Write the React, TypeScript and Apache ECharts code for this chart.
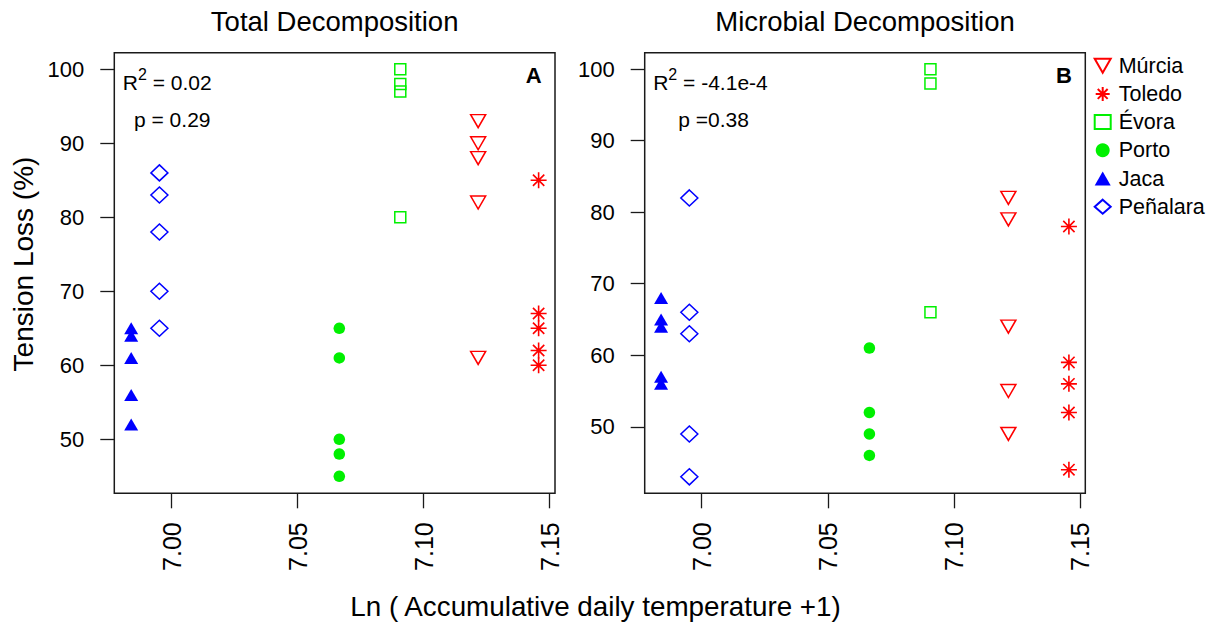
import React, { useEffect, useRef } from "react";
import * as echarts from "echarts";

const FONT = "'Liberation Sans', Arial, Helvetica, sans-serif";

// Sites and their x position: Ln(accumulative daily temperature + 1)
const sites = ["Múrcia", "Toledo", "Évora", "Porto", "Jaca", "Peñalara"];
const siteLn = [7.1216, 7.1456, 7.0907, 7.0665, 6.9839, 6.9951];

// Panel A: Total decomposition (tension loss %)
const totalMurcia = [93, 90, 88, 82, 61];
const totalToledo = [85, 67, 65, 62, 60];
const totalEvora = [100, 98, 97, 80];
const totalPorto = [65, 61, 50, 48, 45];
const totalJaca = [65, 64, 61, 56, 52];
const totalPenalara = [86, 83, 78, 70, 65];

// Panel B: Microbial decomposition (tension loss %)
const microMurcia = [82, 79, 64, 55, 49];
const microToledo = [78, 59, 56, 52, 44];
const microEvora = [100, 98, 66];
const microPorto = [61, 52, 49, 46];
const microJaca = [68, 65, 64, 57, 56];
const microPenalara = [82, 66, 63, 49, 43];

const xTicks = [7.0, 7.05, 7.1, 7.15];
const yTicks = [50, 60, 70, 80, 90, 100];

const panelTitles = ["Total Decomposition", "Microbial Decomposition"];
const r2Values = ["0.02", "-4.1e-4"];
const pLabels = ["p = 0.29", "p =0.38"];
const panelLetters = ["A", "B"];

const RED = "#FF0000";
const GREEN = "#00F000";
const BLUE = "#0000FF";
const CLEAR = "rgba(255,255,255,0)";
const STAR =
  "path://M8,0L8,16M0,8L16,8M2.34,2.34L13.66,13.66M2.34,13.66L13.66,2.34";
const DOWN_TRI = "path://M0,0L16,0L8,14Z";

const siteStyles: any[] = [
  { symbol: "triangle", symbolRotate: 180, symbolSize: [15, 13], itemStyle: { color: CLEAR, borderColor: RED, borderWidth: 1.5, opacity: 1 } },
  { symbol: STAR, symbolSize: 16, itemStyle: { color: CLEAR, borderColor: RED, borderWidth: 1.6, opacity: 1 } },
  { symbol: "rect", symbolSize: 11, itemStyle: { color: CLEAR, borderColor: GREEN, borderWidth: 1.5, opacity: 1 } },
  { symbol: "circle", symbolSize: 11.5, itemStyle: { color: GREEN, opacity: 1 } },
  { symbol: "triangle", symbolSize: [14, 12], itemStyle: { color: BLUE, opacity: 1 } },
  { symbol: "diamond", symbolSize: [17, 16], itemStyle: { color: CLEAR, borderColor: BLUE, borderWidth: 1.5, opacity: 1 } },
];

const panelValues = [
  [totalMurcia, totalToledo, totalEvora, totalPorto, totalJaca, totalPenalara],
  [microMurcia, microToledo, microEvora, microPorto, microJaca, microPenalara],
];

const grids = [
  { left: 114.3, top: 52.7, width: 440.7, height: 440.6 },
  { left: 644.7, top: 52.7, width: 440.6, height: 440.6 },
];
const xRanges = [
  [6.9772, 7.1521],
  [6.9774, 7.1521],
];
const yRanges = [
  [42.7, 102.24],
  [40.7, 102.3],
];

const AXIS_COLOR = "#1a1a1a";

function buildOption() {
  const series: any[] = [];
  panelValues.forEach((vals, p) => {
    vals.forEach((arr, i) => {
      series.push({
        type: "scatter",
        name: sites[i],
        xAxisIndex: p,
        yAxisIndex: p,
        data: arr.map((v) => [siteLn[i], v]),
        ...siteStyles[i],
        emphasis: { disabled: true },
      });
    });
  });

  const graphic: any[] = [];
  panelTitles.forEach((t, p) => {
    const g = grids[p];
    graphic.push({
      type: "text",
      x: g.left + g.width / 2,
      y: 21,
      style: {
        text: t,
        font: `27.5px ${FONT}`,
        fill: "#000",
        align: "center",
        textAlign: "center",
        verticalAlign: "middle",
        textVerticalAlign: "middle",
      },
    });
    graphic.push({
      type: "text",
      x: g.left + 8.5,
      y: 82,
      style: {
        text: `{r|R}{s|2}{r| = ${r2Values[p]}}`,
        rich: {
          r: { fontSize: 21, fontFamily: FONT, lineHeight: 32, fill: "#000", color: "#000" },
          s: { fontSize: 16, fontFamily: FONT, lineHeight: 15, verticalAlign: "top", fill: "#000", color: "#000" },
        },
        align: "left",
        textAlign: "left",
        verticalAlign: "middle",
        textVerticalAlign: "middle",
      },
    });
    graphic.push({
      type: "text",
      x: g.left + (p === 0 ? 19.7 : 33.6),
      y: 119,
      style: {
        text: pLabels[p],
        font: `21px ${FONT}`,
        fill: "#000",
        align: "left",
        textAlign: "left",
        verticalAlign: "middle",
        textVerticalAlign: "middle",
      },
    });
    graphic.push({
      type: "text",
      x: g.left + g.width - 21.3,
      y: 75,
      style: {
        text: panelLetters[p],
        font: `bold 22px ${FONT}`,
        fill: "#000",
        align: "center",
        textAlign: "center",
        verticalAlign: "middle",
        textVerticalAlign: "middle",
      },
    });
  });
  graphic.push({
    type: "text",
    x: 23.5,
    y: 264,
    rotation: Math.PI / 2,
    style: {
      text: "Tension Loss (%)",
      font: `28px ${FONT}`,
      fill: "#000",
      align: "center",
      textAlign: "center",
      verticalAlign: "middle",
      textVerticalAlign: "middle",
    },
  });
  graphic.push({
    type: "text",
    x: 595.5,
    y: 606,
    style: {
      text: "Ln ( Accumulative daily temperature +1)",
      font: `27.8px ${FONT}`,
      fill: "#000",
      align: "center",
      textAlign: "center",
      verticalAlign: "middle",
      textVerticalAlign: "middle",
    },
  });

  return {
    animation: false,
    backgroundColor: "#ffffff",
    grid: grids.map((g) => ({
      ...g,
      show: true,
      borderColor: AXIS_COLOR,
      borderWidth: 1.5,
      backgroundColor: "transparent",
      containLabel: false,
    })),
    xAxis: grids.map((g, p) => ({
      type: "value",
      gridIndex: p,
      min: xRanges[p][0],
      max: xRanges[p][1],
      axisLine: { show: false },
      splitLine: { show: false },
      axisTick: {
        show: true,
        length: 15,
        customValues: xTicks,
        lineStyle: { color: AXIS_COLOR, width: 1.3 },
      },
      axisLabel: {
        show: true,
        customValues: xTicks,
        rotate: 90,
        margin: 29,
        fontSize: 25,
        fontFamily: FONT,
        color: "#000",
        formatter: (v: number) => v.toFixed(2),
      },
    })),
    yAxis: grids.map((g, p) => ({
      type: "value",
      gridIndex: p,
      min: yRanges[p][0],
      max: yRanges[p][1],
      axisLine: { show: false },
      splitLine: { show: false },
      axisTick: {
        show: true,
        length: 14,
        customValues: yTicks,
        lineStyle: { color: AXIS_COLOR, width: 1.3 },
      },
      axisLabel: {
        show: true,
        customValues: yTicks,
        margin: 30,
        fontSize: 22,
        fontFamily: FONT,
        color: "#000",
        formatter: (v: number) => String(Math.round(v)),
      },
    })),
    legend: {
      data: sites.map((s, i) => (i === 0 ? { name: s, icon: DOWN_TRI } : { name: s })),
      orient: "vertical",
      left: 1093.7,
      top: 54.7,
      padding: 0,
      itemWidth: 16,
      itemHeight: 14,
      itemGap: 6.2,
      selectedMode: false,
      textStyle: {
        fontSize: 21.5,
        fontFamily: FONT,
        color: "#000",
        lineHeight: 22,
        padding: [0, 0, 0, 3],
      },
    },
    series,
    graphic,
  };
}

export default function App() {
  const ref = useRef<HTMLDivElement>(null);
  useEffect(() => {
    if (!ref.current) return;
    const chart = echarts.init(ref.current, undefined, { renderer: "svg" });
    chart.setOption(buildOption() as any);
    return () => chart.dispose();
  }, []);
  return (
    <div
      ref={ref}
      style={{ position: "absolute", left: 0, top: 0, width: 1219, height: 630, background: "#fff" }}
    />
  );
}
